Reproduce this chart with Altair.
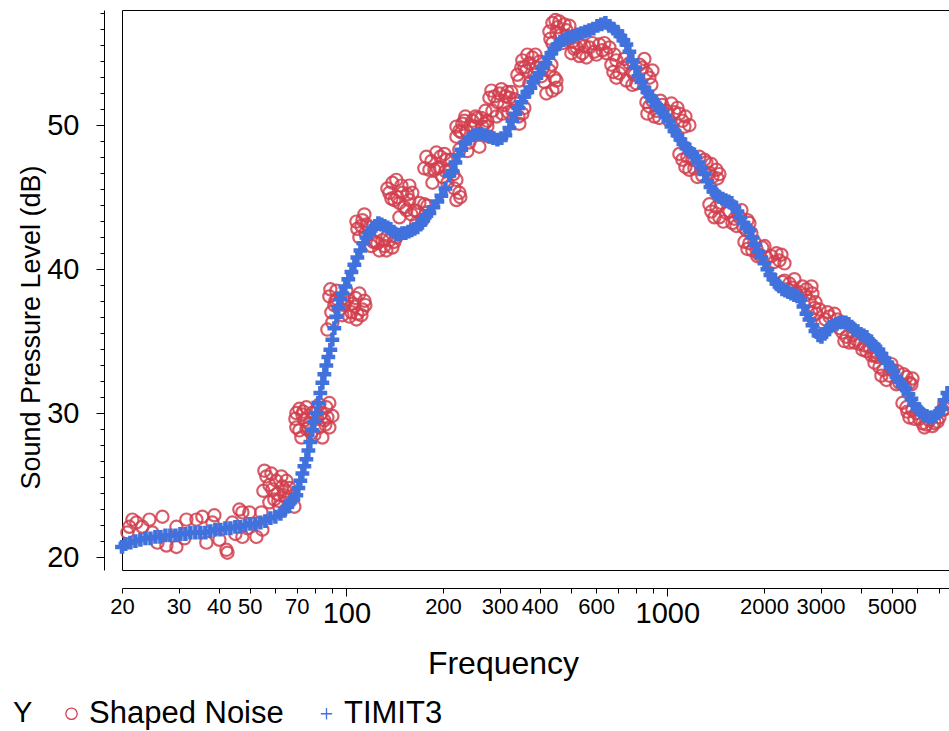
import altair as alt
import pandas as pd

# ---- data ----
noise_freq = [
    # 20-55 Hz scatter
    20.79, 21.09, 21.55, 22.18, 23.15, 24.35, 24.88, 25.79, 26.73, 27.51, 29.55, 29.55, 31.29, 31.74,
    34.10, 35.60, 36.63, 38.25, 38.80, 40.22, 42.29, 42.60, 44.15, 45.11, 46.42, 47.43, 47.43, 49.16,
    49.87, 52.44, 54.75,
    # ~55-70 Hz
    54.35, 55.54, 56.34, 57.56, 58.81, 59.66, 60.52, 61.84, 63.19, 64.10, 65.03, 66.44, 67.40, 68.86,
    57.56, 60.96, 65.49, 62.73, 55.14, 58.39, 61.40, 64.56,
    # ~70-90 Hz
    69.86, 71.38, 72.41, 72.94, 73.99, 75.06, 76.68, 78.35, 80.63, 82.38, 84.18, 86.62, 87.25, 88.51, 88.51,
    71.38, 77.78, 82.38, 85.39, 90.44, 75.06, 79.48, 69.86,
    69.36, 73.46, 76.14, 81.21, 83.57, 86.00,
    # ~90-115 Hz
    87.25, 88.51, 90.44, 91.74, 93.07, 95.09, 97.16, 97.86, 100.0, 102.2, 104.4, 107.5, 109.8, 112.2,
    98.56, 105.9, 108.2, 113.8, 89.79, 93.74,
    89.15, 92.40, 100.7, 103.7, 106.7, 111.4, 114.6,
    # ~110-145 Hz
    109.8, 112.2, 113.8, 114.6, 117.9, 121.3, 124.9, 126.7, 133.2, 139.1, 143.1,
    119.6, 129.5, 136.1, 107.5, 111.4,
    108.2, 115.5, 123.1, 131.3, 141.1, 134.2,
    # ~140-180 Hz
    139.1, 141.1, 143.1, 146.3, 149.5, 153.8, 157.1, 160.5, 165.2, 168.8, 172.5, 177.5,
    136.1, 144.1, 151.6, 157.1, 162.8, 175.0, 146.3,
    134.2, 138.1, 148.4, 154.9, 166.4, 178.8, 159.4,
    # ~180-225 Hz
    177.5, 181.4, 185.4, 190.7, 194.9, 199.1, 204.9, 209.4, 220.2, 220.2, 224.9,
    184.0, 192.1, 202.0, 212.4, 206.4, 217.0,
    175.0, 188.0, 196.3, 203.5, 215.5, 226.5,
    # ~220-280 Hz
    220.2, 220.2, 224.9, 229.8, 236.5, 241.7, 247.0, 259.6, 265.3, 279.0,
    233.1, 250.5, 256.0, 269.1, 224.9, 238.2,
    228.1, 234.8, 243.4, 252.3, 263.3, 274.9,
    # ~275-355 Hz
    274.9, 279.0, 285.1, 299.7, 306.2, 312.9, 322.0, 329.0, 338.6, 345.9, 353.4,
    289.2, 310.6, 317.4, 333.8, 293.4, 271.0,
    283.0, 295.5, 304.0, 319.7, 326.6, 343.5, 358.5,
    # ~345-450 Hz
    345.9, 353.4, 363.7, 371.7, 379.8, 390.8, 405.1, 419.9, 429.0, 438.4, 451.1,
    358.5, 385.3, 399.3, 413.9, 444.7, 366.3,
    341.0, 350.9, 371.7, 388.0, 410.9, 435.2, 451.1,
    # ~440-500 Hz
    438.4, 438.4, 451.1, 460.9, 470.9, 484.6,
    429.0, 454.4, 477.7, 495.2,
    432.1, 447.9, 467.5, 488.1, 506.0,
    # ~500-690 Hz
    502.3, 520.7, 543.6, 571.5, 600.9, 627.5, 659.7,
    532.0, 559.4, 584.0, 614.1, 645.7, 513.3,
    551.4, 592.4, 636.5, 683.8, 532.0,
    # ~670-900 Hz
    693.7, 693.7, 724.3, 745.3, 778.1, 800.7, 836.0, 879.0, 898.2,
    669.2, 708.8, 761.5, 818.2, 860.3, 778.1,
    678.9, 734.7, 789.3, 848.1, 891.7,
    # ~860-1130 Hz
    860.3, 879.0, 924.3, 944.4, 993.0, 1015, 1090, 1114,
    911.1, 965.0, 1052, 1138, 1171,
    866.6, 898.2, 951.2, 1030, 1075, 1130,
    # ~1100-1430 Hz
    1114, 1138, 1171, 1197, 1258, 1323, 1352, 1422,
    1214, 1285, 1381, 1452, 1090,
    1154, 1240, 1304, 1371, 1432,
    # ~1350-1830 Hz
    1371, 1422, 1452, 1527, 1595, 1677, 1763, 1801,
    1352, 1494, 1561, 1641, 1726, 1827,
    1401, 1473, 1618, 1701, 1776,
    # ~1730-2320 Hz
    1801, 1840, 1907, 1977, 2035, 2186, 2234,
    1738, 1867, 1935, 2109, 2316,
    1776, 1894, 2006, 2155, 2266,
    # ~2280-2900 Hz
    2316, 2400, 2524, 2635, 2771, 2831,
    2283, 2452, 2579, 2712, 2893,
    2366, 2488, 2692, 2811,
    # ~2800-3400 Hz
    2811, 2914, 3042, 3198,
    2977, 3108, 3315,
    2872, 3153, 3387,
    # ~3400-4520 Hz
    3511, 3692, 3882, 4052, 4261, 4480,
    3436, 3613, 3772, 3966, 4170, 4417,
    3561, 3827, 4111, 4322, 4513,
    # ~4400-5800 Hz
    4578, 4814, 5025, 5284, 5556, 5677,
    4417, 4711, 4918, 5171, 5438, 5801,
    4644, 4989, 5209, 5477, 5759,
    # ~5400-7400 Hz
    5556, 5677, 5969, 6232, 6553, 7040, 7297,
    5399, 5801, 6099, 6413, 6792, 7193,
    5596, 5884, 6322, 6696, 6940, 7350,
]
noise_db = [
    21.7, 22.1, 22.6, 22.4, 22.1, 22.6, 21.7, 21.0, 22.8, 20.8, 22.1, 20.7, 21.3, 22.6,
    22.6, 22.8, 21.0, 22.4, 22.9, 21.2, 20.5, 20.3, 22.4, 21.6, 23.3, 23.1, 21.4, 22.0,
    23.1, 21.4, 21.9,
    23.1, 26.0, 25.6, 23.8, 24.7, 24.0, 25.3, 23.5, 24.9, 24.3, 25.3, 24.8, 24.2, 23.5,
    25.0, 24.4, 24.0, 25.6, 24.6, 25.8, 23.9, 24.6,
    30.0, 28.8, 28.3, 29.9, 29.5, 30.4, 29.3, 30.0, 30.2, 29.0, 28.3, 30.4, 29.7, 29.0, 30.7,
    30.3, 28.6, 30.6, 29.5, 29.8, 28.9, 28.5, 29.0,
    29.6, 30.1, 29.0, 29.6, 30.0, 29.2,
    35.8, 38.1, 36.3, 37.5, 38.5, 37.2, 36.8, 38.0, 38.5, 36.7, 37.6, 36.5, 38.3, 37.2,
    37.5, 37.4, 36.9, 37.8, 37.0, 37.9,
    38.6, 37.8, 37.9, 37.0, 38.0, 36.8, 37.5,
    42.2, 43.4, 43.8, 42.5, 42.9, 41.9, 41.8, 41.3, 41.3, 41.5, 42.2,
    41.6, 42.0, 42.0, 43.3, 43.0,
    42.8, 43.1, 41.9, 41.6, 41.9, 42.3,
    46.0, 44.8, 46.2, 43.6, 45.3, 44.1, 44.8, 45.3, 43.2, 44.6, 43.4, 43.9,
    45.3, 45.0, 44.3, 45.8, 44.1, 44.5, 44.6,
    45.6, 44.9, 45.8, 45.2, 44.0, 44.4, 43.8,
    47.8, 46.9, 46.0, 48.1, 47.1, 46.4, 47.6, 46.9, 46.2, 44.8, 45.3,
    47.5, 47.0, 48.0, 47.6, 46.0, 45.6,
    47.0, 46.9, 47.8, 46.8, 46.6, 45.0,
    49.9, 49.2, 48.3, 50.1, 49.6, 48.8, 50.3, 48.5, 49.9, 49.2,
    50.3, 49.9, 50.5, 50.1, 49.6, 48.2,
    49.5, 50.6, 50.0, 50.6, 50.5, 49.9,
    50.3, 51.9, 51.0, 52.2, 50.8, 52.0, 51.9, 51.0, 51.5, 50.1, 50.8,
    52.0, 51.4, 52.3, 51.8, 50.6, 51.0,
    52.4, 51.6, 52.5, 50.9, 52.3, 50.6, 51.2,
    53.1, 54.5, 53.8, 52.9, 54.7, 54.0, 53.4, 52.2, 53.8, 52.4, 53.1,
    54.0, 53.5, 54.4, 53.0, 53.3, 54.9,
    53.5, 54.0, 54.3, 54.9, 54.0, 54.2, 52.6,
    57.1, 55.7, 56.4, 57.2, 55.7, 56.6,
    56.5, 56.8, 57.0, 56.9,
    56.0, 57.3, 56.3, 56.2, 55.8,
    55.0, 55.4, 55.0, 55.4, 54.9, 55.2, 55.4,
    55.6, 54.7, 55.7, 55.6, 55.0, 55.3,
    55.5, 55.1, 55.7, 54.9, 54.8,
    54.5, 53.3, 54.0, 53.1, 53.7, 52.9, 54.0, 53.3, 53.8,
    54.2, 53.6, 54.3, 54.2, 53.6, 52.8,
    53.7, 54.6, 53.5, 54.6, 52.8,
    51.6, 51.3, 51.0, 50.5, 51.0, 50.3, 50.8, 50.3,
    50.6, 51.4, 50.9, 50.6, 50.0,
    50.8, 51.7, 51.7, 51.5, 51.2, 49.9,
    47.6, 47.1, 46.9, 47.6, 47.8, 47.4, 46.7, 46.9,
    47.0, 46.5, 46.4, 46.6, 48.0,
    47.8, 46.4, 47.6, 47.3, 46.3,
    44.0, 44.3, 43.6, 43.9, 43.2, 43.6, 42.7, 43.2,
    44.5, 43.3, 44.0, 43.0, 42.9, 42.5,
    43.6, 44.6, 43.5, 44.1, 43.4,
    41.8, 41.3, 40.9, 41.5, 40.8, 41.1, 40.6,
    41.9, 41.9, 41.0, 40.9, 40.4,
    41.4, 41.4, 41.6, 40.5, 41.0,
    39.2, 39.0, 38.3, 38.8, 37.8, 38.3,
    39.1, 38.7, 38.4, 38.6, 37.7,
    38.6, 39.3, 38.2, 38.8,
    37.0, 36.9, 36.3, 36.7,
    37.2, 36.5, 36.9,
    37.3, 37.0, 36.5,
    35.6, 34.9, 35.1, 34.4, 34.6, 34.2,
    35.9, 35.3, 35.4, 34.8, 34.3, 34.0,
    35.0, 34.9, 34.7, 34.0, 33.9,
    33.2, 32.3, 33.0, 32.1, 32.5, 32.1,
    33.5, 33.0, 32.6, 32.0, 32.7, 32.4,
    32.6, 33.4, 32.9, 31.9, 32.0,
    30.4, 29.7, 30.0, 29.3, 29.5, 29.7, 30.6,
    30.7, 30.2, 29.6, 29.2, 29.3, 30.2,
    30.1, 29.6, 29.0, 29.1, 29.4, 30.3,
]

timit_freq = [
    20.0, 20.49, 21.24, 22.02, 22.82, 23.66, 24.53, 25.42, 26.35, 27.31, 28.30, 29.34, 30.41, 31.52,
    32.66, 33.86, 35.09, 36.37, 37.70, 39.08, 40.51, 41.99, 43.52, 45.11, 46.75, 48.46, 50.23, 52.06,
    53.97, 55.94, 57.97, 60.09, 62.29, 64.10, 65.49, 66.92, 68.37, 69.86, 70.87, 71.89, 72.94, 73.99,
    75.06, 76.14, 77.23, 78.35, 79.48, 80.63, 81.79, 82.97, 84.18, 85.39, 86.62, 87.87, 89.15, 90.44,
    91.74, 93.07, 94.41, 95.77, 97.16, 99.27, 101.4, 103.7, 105.9, 108.2, 110.6, 113.0, 115.5, 117.9,
    120.5, 123.1, 125.8, 128.5, 131.3, 134.2, 137.1, 140.1, 143.1, 146.3, 149.5, 152.7, 156.1, 159.4,
    162.8, 166.4, 170.0, 173.7, 177.5, 181.4, 186.7, 192.1, 197.7, 203.5, 209.4, 214.0, 218.6, 223.4,
    228.1, 234.8, 241.7, 248.7, 256.0, 263.3, 271.0, 279.0, 287.1, 295.5, 304.0, 312.9, 322.0, 329.0,
    336.2, 343.5, 350.9, 358.5, 366.3, 374.4, 382.5, 390.8, 399.3, 408.0, 416.9, 425.9, 435.2, 444.7,
    454.4, 464.2, 474.3, 484.6, 495.2, 509.6, 524.5, 539.7, 555.4, 571.5, 588.1, 605.3, 622.9, 641.1,
    659.7, 678.9, 698.7, 713.9, 729.4, 745.3, 761.5, 778.1, 795.0, 812.3, 830.0, 848.1, 866.6, 885.3,
    904.6, 924.3, 944.4, 965.0, 986.0, 1007, 1030, 1052, 1075, 1098, 1122, 1146, 1171, 1197,
    1223, 1249, 1276, 1304, 1332, 1362, 1391, 1422, 1452, 1484, 1516, 1549, 1583, 1618,
    1653, 1689, 1726, 1763, 1801, 1840, 1880, 1921, 1963, 2006, 2049, 2094, 2139, 2186,
    2234, 2283, 2332, 2383, 2435, 2488, 2542, 2598, 2654, 2712, 2771, 2831, 2893, 2956,
    3020, 3086, 3153, 3221, 3291, 3363, 3436, 3511, 3587, 3665, 3745, 3827, 3910, 3995,
    4081, 4170, 4261, 4354, 4448, 4545, 4644, 4745, 4849, 4953, 5061, 5171, 5284, 5399,
    5516, 5636, 5759, 5884, 6012, 6143, 6276, 6413, 6553, 6696, 6841, 6990, 7141, 7297, 7456,
]
timit_db = [
    20.7, 20.9, 21.0, 21.1, 21.2, 21.3, 21.3, 21.4, 21.4, 21.5, 21.5, 21.5, 21.6, 21.6,
    21.7, 21.7, 21.7, 21.7, 21.8, 21.9, 21.9, 22.0, 22.0, 22.1, 22.1, 22.2, 22.3, 22.3,
    22.4, 22.5, 22.7, 22.8, 23.0, 23.2, 23.5, 23.8, 24.0, 24.3, 24.8, 25.3, 25.8, 26.3,
    26.8, 27.4, 28.0, 28.8, 29.4, 30.0, 30.7, 31.4, 32.1, 32.7, 33.3, 33.9, 34.4, 35.1,
    35.9, 36.7, 37.3, 37.9, 38.3, 38.8, 39.3, 39.8, 40.3, 40.8, 41.3, 41.8, 42.2, 42.5,
    42.8, 43.0, 43.2, 43.1, 43.0, 42.9, 42.8, 42.6, 42.4, 42.4, 42.5, 42.5, 42.6, 42.7,
    42.8, 42.9, 43.1, 43.4, 43.7, 43.9, 44.3, 44.7, 45.1, 45.6, 46.5, 46.8, 47.4, 47.9,
    48.3, 48.8, 49.1, 49.3, 49.4, 49.4, 49.3, 49.2, 49.1, 49.0, 49.1, 49.3, 49.8, 50.3,
    50.8, 51.2, 51.6, 52.0, 52.3, 52.6, 53.0, 53.3, 53.6, 54.0, 54.3, 54.7, 55.0, 55.3,
    55.6, 55.8, 55.9, 56.0, 56.1, 56.2, 56.3, 56.4, 56.5, 56.6, 56.7, 56.9, 57.0, 57.1,
    56.9, 56.7, 56.5, 56.2, 55.9, 55.6, 55.1, 54.5, 54.0, 53.4, 53.0, 52.6, 52.3, 52.0,
    51.7, 51.4, 51.2, 50.9, 50.6, 50.3, 49.9, 49.6, 49.3, 49.0, 48.7, 48.4, 48.3, 48.0,
    47.8, 47.4, 47.0, 46.6, 46.1, 45.7, 45.4, 45.2, 45.0, 44.9, 44.8, 44.7, 44.6, 44.3,
    44.0, 43.6, 43.2, 42.9, 42.7, 42.2, 41.7, 41.2, 40.8, 40.4, 40.0, 39.6, 39.3, 39.0,
    38.8, 38.6, 38.5, 38.4, 38.3, 38.2, 38.1, 37.9, 37.4, 36.9, 36.5, 36.1, 35.7, 35.4,
    35.3, 35.5, 35.8, 36.0, 36.1, 36.2, 36.3, 36.3, 36.3, 36.2, 36.0, 35.8, 35.7, 35.5,
    35.4, 35.3, 35.0, 34.8, 34.6, 34.4, 34.1, 33.8, 33.5, 33.2, 32.9, 32.5, 32.2, 31.9,
    31.7, 31.3, 31.0, 30.6, 30.3, 30.1, 29.9, 29.8, 29.7, 29.7, 29.8, 30.0, 30.3, 30.9, 31.4,
]

series_names = ["Shaped Noise", "TIMIT3"]
series_colors = ["#D23F4E", "#4171DC"]
series_shapes = ["circle", "M-1,0L1,0M0,-1L0,1"]

x_tick_values = [20, 30, 40, 50, 60, 70, 80, 90, 100, 200, 300, 400, 500, 600, 700, 800, 900,
                 1000, 2000, 3000, 4000, 5000, 6000, 7000]
x_label_values = [20, 30, 40, 50, 70, 100, 200, 300, 400, 600, 1000, 2000, 3000, 5000]
y_tick_values = [20 + k * 10 / 9 for k in range(35)]

df = pd.DataFrame({
    "Frequency": noise_freq + timit_freq,
    "SPL": noise_db + timit_db,
    "Y": [series_names[0]] * len(noise_freq) + [series_names[1]] * len(timit_freq),
})

FONT = "Liberation Sans"
big_test = "datum.value == 100 || datum.value == 1000"
major_y = "abs(datum.value / 10 - round(datum.value / 10)) < 0.001"
label_list = "[" + ",".join(str(v) for v in x_label_values) + "]"

x_enc = alt.X(
    "Frequency:Q",
    scale=alt.Scale(type="log", domain=[20, 7540], nice=False),
    axis=alt.Axis(
        values=x_tick_values,
        labelExpr=f"indexof({label_list}, datum.value) >= 0 ? format(datum.value, 'd') : ''",
        labelFontSize={"condition": {"test": big_test, "value": 29}, "value": 22},
        tickSize={"condition": {"test": big_test, "value": 8}, "value": 5},
        offset=18, grid=False, labelOverlap=False, labelFlush=False, labelBound=False,
        labelPadding=3, labelFont=FONT, labelColor="black",
        domainColor="black", tickColor="black",
        title="Frequency", titleFont=FONT, titleFontSize=32, titleFontWeight="normal",
        titleColor="black", titleX=381, titleY=85, titleAlign="center",
        titleBaseline="alphabetic", titleAnchor="start",
    ),
)
y_enc = alt.Y(
    "SPL:Q",
    scale=alt.Scale(domain=[19.1, 58.0], nice=False, zero=False),
    axis=alt.Axis(
        values=y_tick_values,
        labelExpr=f"{major_y} ? format(datum.value, '.0f') : ''",
        tickSize={"condition": {"test": major_y, "value": 8}, "value": 4},
        offset=18, grid=False, labelFontSize=29, labelFont=FONT, labelColor="black",
        labelPadding=17, domainColor="black", tickColor="black",
        title="Sound Pressure Level (dB)", titleFont=FONT, titleFontSize=27,
        titleFontWeight="normal", titleColor="black", titleX=-65, titleY=317,
        titleAngle=270, titleAlign="center", titleBaseline="alphabetic", titleAnchor="start",
    ),
)
legend = alt.Legend(
    title="Y", orient="none", legendX=-109, legendY=688, direction="horizontal",
    titleOrient="left", titleFont=FONT, titleFontSize=29, titleFontWeight="normal",
    titleColor="black", titleBaseline="middle", titlePadding=23,
    labelFont=FONT, labelFontSize=31, labelColor="black", labelOffset=2, labelLimit=0,
    symbolSize=130, symbolStrokeWidth=1.3, symbolOpacity=1, columnPadding=27,
)

base = alt.Chart(df).encode(
    x=x_enc,
    y=y_enc,
    color=alt.Color("Y:N", scale=alt.Scale(domain=series_names, range=series_colors), legend=legend),
    shape=alt.Shape("Y:N", scale=alt.Scale(domain=series_names, range=series_shapes), legend=legend),
)

noise_layer = base.transform_filter(alt.datum.Y == series_names[0]).mark_point(
    filled=False, size=150, strokeWidth=2.2, opacity=0.85
)
timit_layer = base.transform_filter(alt.datum.Y == series_names[1]).mark_point(
    filled=False, size=190, strokeWidth=4.5, opacity=1
)

chart = alt.layer(noise_layer, timit_layer).properties(
    width=827, height=560,
    padding={"left": 122, "top": 10, "right": 0, "bottom": 161},
    autosize=alt.AutoSizeParams(type="none"),
).configure(
    background="white", font=FONT
).configure_view(
    stroke="black", strokeWidth=1
)

chart.save("out.html", embed_options={"renderer": "svg", "actions": False})
